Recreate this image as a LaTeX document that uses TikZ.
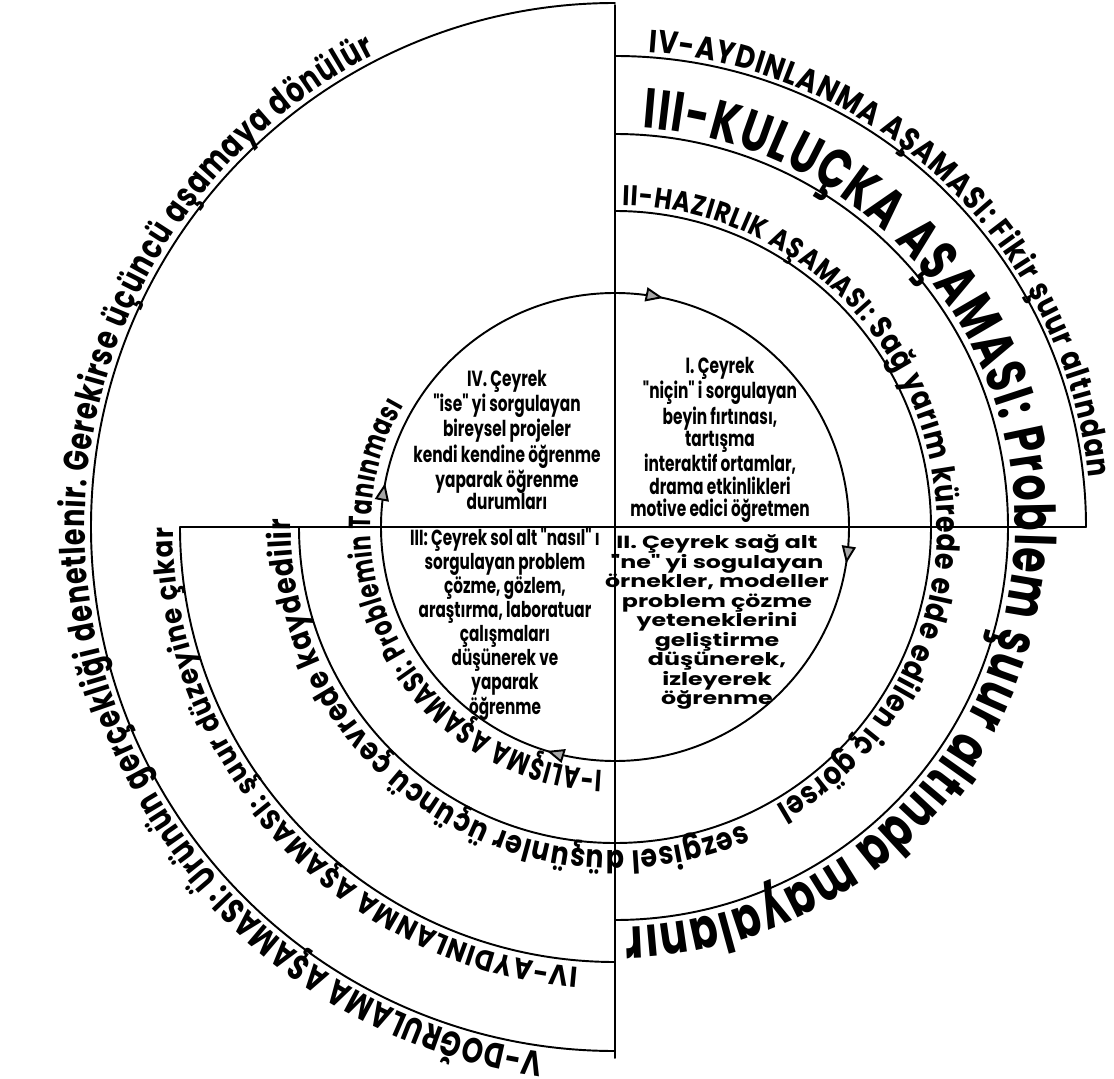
\documentclass[tikz,border=0pt]{standalone}
\usepackage{fontspec}
\setmainfont{Poppins}
\newfontfamily\arcA[FakeStretch=0.73]{Poppins}
\newfontfamily\arcB[FakeStretch=0.77]{Poppins}
\newfontfamily\arcC[FakeStretch=0.85]{Poppins}
\newfontfamily\arcD[FakeStretch=0.9]{Poppins}
\newfontfamily\qfont[FakeStretch=0.7]{Poppins}
\newfontfamily\qwide[FakeStretch=1.35]{Poppins}
\usetikzlibrary{decorations.text,decorations.markings,arrows.meta}
\newcommand{\fs}[2]{#1\bfseries\fontsize{#2}{#2}\selectfont}
\begin{document}
\begin{tikzpicture}[x=0.02cm, y=0.02cm, line width=1.1pt, line cap=round, line join=round,
	>={Triangle[open,length=10pt,width=8pt,fill=black!35]},
	ring/.style={decorate, decoration={text along path, text align=fit to path, text={#1}}},
	qtext/.style={align=center, font=\qfont\bfseries\fontsize{12.5}{12.8}\selectfont}]
	\useasboundingbox (-615,-551) rectangle (499,527);
	\coordinate (O) at (0,0);
	\coordinate (top) at (0,522);
	\coordinate (bot) at (0,-531);
	\coordinate (west) at (-435,0);
	\coordinate (east) at (471,0);
	% axes of the quarters
	\draw (top) -- (bot);
	\draw (west) -- (east);
	% rings
	\draw[postaction={decorate}, decoration={markings,
		mark=at position 0.033 with {\arrow{>}}, mark=at position 0.275 with {\arrow{>}},
		mark=at position 0.547 with {\arrow{>}}, mark=at position 0.78 with {\arrow{>}}}]
		(90:234) arc[start angle=90, end angle=-270, radius=234];
	\draw (90:316) arc[start angle=90, end angle=-180, radius=316];
	\draw (90:393) arc[start angle=90, end angle=-90, radius=393];
	\draw (90:471) arc[start angle=90, end angle=0, radius=471];
	\draw (180:435) arc[start angle=180, end angle=270, radius=435];
	\draw (90:524) arc[start angle=90, end angle=270, radius=524];
	% texts on the rings
	\path[ring={|\fs\arcC{18.2}|IV-AYDINLANMA AŞAMASI: Fikir şuur altından}]
		(86:476) arc[start angle=86, end angle=6, radius=476];
	\path[ring={|\fs\arcA{32}|III-KULUÇKA AŞAMASI: Problem şuur altında mayalanır}]
		(86:400) arc[start angle=86, end angle=-88.5, radius=400];
	\path[ring={|\fs\arcC{16.2}|II-HAZIRLIK AŞAMASI: |\fs\arcC{18}|Sağ yarım kürede elde edilen iç görsel}]
		(88.6:322) arc[start angle=88.6, end angle=-60, radius=322];
	\path[ring={|\fs\arcC{18}|sezgisel düşünler üçüncü çevrede kaydedilir}]
		(-66.5:324) arc[start angle=-66.5, end angle=-181.4, radius=324];
	\path[ring={|\fs\arcA{17.4}|I-ALIŞMA AŞAMASI: Problemin Tanınması}]
		(267:244) arc[start angle=267, end angle=150, radius=244];
	\path[ring={|\fs\arcD{16.4}|IV-AYDINLANMA AŞAMASI: şuur düzeyine çıkar}]
		(265.2:442) arc[start angle=265.2, end angle=180.2, radius=442];
	\path[ring={|\fs\arcB{20}|V-DOĞRULAMA AŞAMASI: Ürünün gerçekliği denetlenir. Gerekirse üçüncü aşamaya dönülür}]
		(262.2:530) arc[start angle=262.2, end angle=116.9, radius=530];
	% the four quarters
	\node[qtext] (q1) at (105,87) {I. Çeyrek\\"niçin" i sorgulayan\\beyin fırtınası,\\tartışma\\interaktif ortamlar,\\drama etkinlikleri\\motive edici öğretmen};
	\node[qtext] (q4) at (-108,87) {IV. Çeyrek\\"ise" yi sorgulayan\\bireysel projeler\\kendi kendine öğrenme\\yaparak öğrenme\\durumları};
	\node[qtext, font=\qfont\bfseries\fontsize{12.4}{12.4}\selectfont] (q3) at (-110,-97) {III: Çeyrek sol alt "nasıl" ı\\sorgulayan problem\\çözme, gözlem,\\araştırma, laboratuar\\çalışmaları\\düşünerek ve\\yaparak\\öğrenme};
	\node[qtext, font=\qwide\bfseries\fontsize{10}{11.1}\selectfont] (q2) at (102,-95) {II. Çeyrek sağ alt\\"ne" yi sogulayan\\örnekler, modeller\\problem çözme\\yeteneklerini\\geliştirme\\düşünerek,\\izleyerek\\öğrenme};
\end{tikzpicture}
\end{document}
